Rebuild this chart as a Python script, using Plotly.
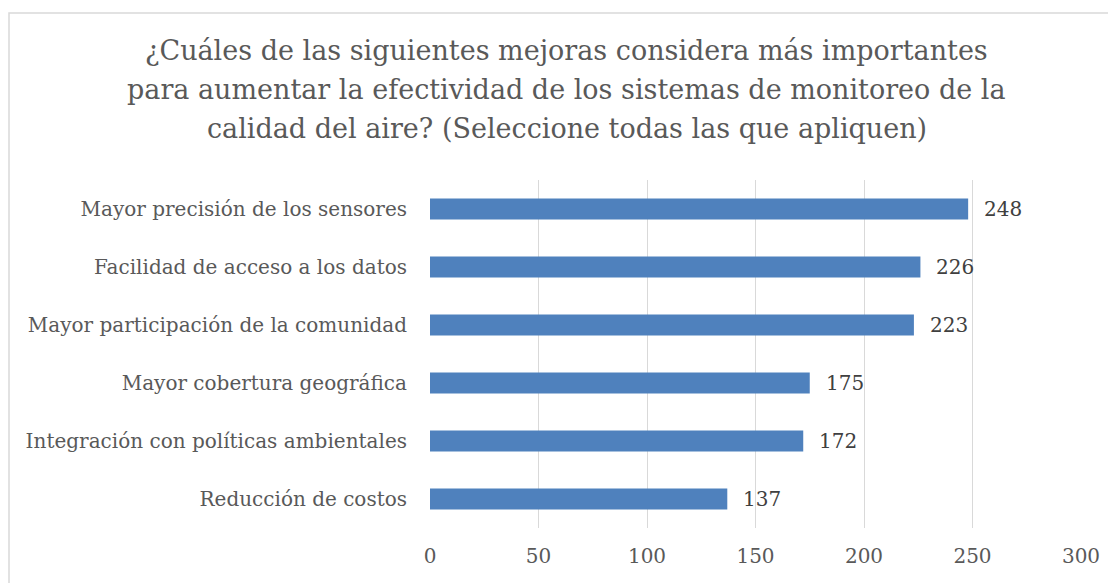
import plotly.graph_objects as go

categories = [
    "Mayor precisión de los sensores",
    "Facilidad de acceso a los datos",
    "Mayor participación de la comunidad",
    "Mayor cobertura geográfica",
    "Integración con políticas ambientales",
    "Reducción de costos",
]
values = [248, 226, 223, 175, 172, 137]
x_ticks = [0, 50, 100, 150, 200, 250, 300]

title_lines = [
    "¿Cuáles de las siguientes mejoras considera más importantes",
    "para aumentar la efectividad de los sistemas de monitoreo de la",
    "calidad del aire? (Seleccione todas las que apliquen)",
]

FONT = "DejaVu Serif"

fig = go.Figure()
fig.add_trace(go.Bar(
    x=values, y=categories, orientation="h",
    marker=dict(color="#4F81BD", line=dict(width=0)),
    width=0.36,
    hoverinfo="skip",
))

for c, v in zip(categories, values):
    fig.add_annotation(x=v, y=c, text=str(v), showarrow=False,
                       xanchor="left", xshift=14,
                       font=dict(family=FONT, size=20, color="#404040"))

# title, one annotation per line for the original line spacing
for i, line in enumerate(title_lines):
    fig.add_annotation(text=line, xref="paper", yref="paper",
                       x=0.2104, y=1.3707 - i * 0.1107,
                       xanchor="center", yanchor="middle", showarrow=False,
                       font=dict(family=FONT, size=27, color="#595959"))

fig.add_shape(type="rect", xref="paper", yref="paper",
              x0=-0.6467, x1=1.2, y0=-0.3, y1=1.48,
              line=dict(color="#D9D9D9", width=1.5), fillcolor="rgba(0,0,0,0)",
              layer="below")

fig.update_layout(
    width=1116, height=583,
    margin=dict(l=422, r=43, t=172, b=63),
    paper_bgcolor="white", plot_bgcolor="white",
    showlegend=False,
    xaxis=dict(range=[0, 300], tickvals=x_ticks, showgrid=True,
               gridcolor="#D9D9D9", gridwidth=1.3, zeroline=False,
               showline=False, ticks="", ticklabelstandoff=14,
               tickfont=dict(family=FONT, size=20, color="#595959")),
    yaxis=dict(categoryorder="array", categoryarray=categories[::-1],
               showgrid=False, zeroline=False, showline=False, ticks="",
               ticklabelstandoff=22,
               tickfont=dict(family=FONT, size=20, color="#595959")),
)

fig.write_html("out.html")
